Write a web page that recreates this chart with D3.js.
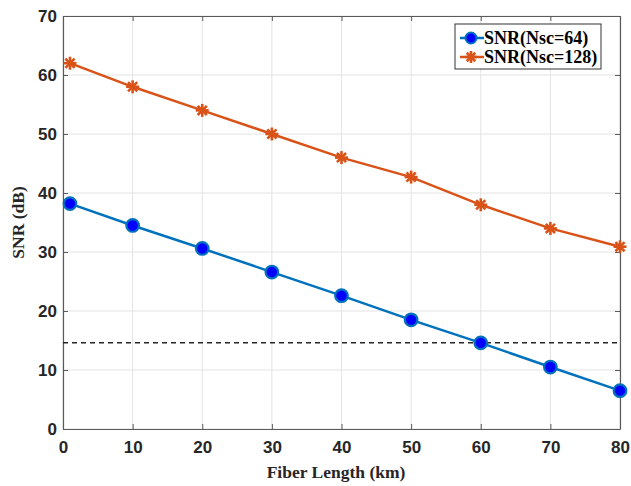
<!DOCTYPE html>
<html>
<head>
<meta charset="utf-8">
<script src="https://cdn.jsdelivr.net/npm/d3@7"></script>
<style>
  html, body { margin: 0; padding: 0; background: #fff; }
  svg { display: block; }
</style>
</head>
<body>
<svg id="chart" width="631" height="486"></svg>
<script>
// Fiber lengths (km) and SNR (dB) for two subcarrier counts
const fiberLength = [1, 10, 20, 30, 40, 50, 60, 70, 80];
const snrNsc64  = [38.2, 34.5, 30.6, 26.6, 22.6, 18.5, 14.6, 10.5, 6.5];
const snrNsc128 = [62.0, 58.0, 54.0, 50.0, 46.0, 42.7, 38.0, 34.0, 30.9];
const thresholdSNR = 14.6;
const xTicks = [0, 10, 20, 30, 40, 50, 60, 70, 80];
const yTicks = [0, 10, 20, 30, 40, 50, 60, 70];
const seriesNames = ["SNR(Nsc=64)", "SNR(Nsc=128)"];

const svg = d3.select("#chart");
const m = { left: 63, right: 620, top: 16, bottom: 429 };

const x = d3.scaleLinear().domain([0, 80]).range([m.left, m.right]);
const y = d3.scaleLinear().domain([0, 70]).range([m.bottom, m.top]);

const blue = "#0072BD", orange = "#D95319";

// grid
const grid = svg.append("g");
grid.selectAll("line.vx").data(xTicks).join("line")
  .attr("x1", d => x(d)).attr("x2", d => x(d))
  .attr("y1", m.top).attr("y2", m.bottom)
  .attr("stroke", "#e3e3e3").attr("stroke-width", 1);
grid.selectAll("line.hy").data(yTicks).join("line")
  .attr("x1", m.left).attr("x2", m.right)
  .attr("y1", d => y(d)).attr("y2", d => y(d))
  .attr("stroke", "#e3e3e3").attr("stroke-width", 1);

// axes (ticks pointing inward, mirrored on top/right)
const tickFont = "bold 17px 'Liberation Sans', Arial, sans-serif";
const axisColor = "#5a5a5a";

const xAxis = svg.append("g").attr("transform", `translate(0,${m.bottom})`)
  .call(d3.axisBottom(x).tickValues(xTicks).tickSizeInner(-5).tickSizeOuter(0).tickPadding(12));
const yAxis = svg.append("g").attr("transform", `translate(${m.left},0)`)
  .call(d3.axisLeft(y).tickValues(yTicks).tickSizeInner(-5).tickSizeOuter(0).tickPadding(6));
const xTop = svg.append("g").attr("transform", `translate(0,${m.top})`)
  .call(d3.axisTop(x).tickValues(xTicks).tickSizeInner(-5).tickSizeOuter(0).tickFormat(""));
const yRight = svg.append("g").attr("transform", `translate(${m.right},0)`)
  .call(d3.axisRight(y).tickValues(yTicks).tickSizeInner(-5).tickSizeOuter(0).tickFormat(""));

[xAxis, yAxis, xTop, yRight].forEach(g => {
  g.select(".domain").attr("stroke", axisColor).attr("stroke-width", 1.2);
  g.selectAll(".tick line").attr("stroke", axisColor).attr("stroke-width", 1);
  g.selectAll(".tick text").style("font", tickFont).attr("fill", "#262626");
});

// threshold line
svg.append("line")
  .attr("x1", x(0)).attr("x2", x(80))
  .attr("y1", y(thresholdSNR)).attr("y2", y(thresholdSNR))
  .attr("stroke", "#262626").attr("stroke-width", 1.5)
  .attr("stroke-dasharray", "5,4");

const line = d3.line().x(d => x(d[0])).y(d => y(d[1]));

// asterisk marker: four crossing strokes
function asterisk(g, cx, cy, r) {
  const a = g.append("g").attr("transform", `translate(${cx},${cy})`);
  for (let k = 0; k < 4; k++) {
    const ang = k * Math.PI / 4;
    a.append("line")
      .attr("x1", -r * Math.cos(ang)).attr("y1", -r * Math.sin(ang))
      .attr("x2", r * Math.cos(ang)).attr("y2", r * Math.sin(ang))
      .attr("stroke", orange).attr("stroke-width", 2.6);
  }
}

// Nsc = 128 series: line with asterisk markers
const pts128 = fiberLength.map((f, i) => [f, snrNsc128[i]]);
svg.append("path").datum(pts128).attr("d", line)
  .attr("fill", "none").attr("stroke", orange).attr("stroke-width", 2.5);
pts128.forEach(p => asterisk(svg, x(p[0]), y(p[1]), 6.5));

// Nsc = 64 series: line with filled circle markers
const pts64 = fiberLength.map((f, i) => [f, snrNsc64[i]]);
svg.append("path").datum(pts64).attr("d", line)
  .attr("fill", "none").attr("stroke", blue).attr("stroke-width", 2.5);
svg.selectAll("circle.p64").data(pts64).join("circle")
  .attr("cx", d => x(d[0])).attr("cy", d => y(d[1])).attr("r", 6.3)
  .attr("fill", "#0000FF").attr("stroke", blue).attr("stroke-width", 2.2);

// axis titles
const titleFont = "bold 17.5px 'Liberation Serif', 'Times New Roman', serif";
svg.append("text").attr("x", 336).attr("y", 478)
  .attr("text-anchor", "middle").style("font", titleFont).attr("fill", "#262626")
  .text("Fiber Length (km)");
svg.append("text").attr("transform", `translate(24,${(m.top + m.bottom) / 2}) rotate(-90)`)
  .attr("text-anchor", "middle").style("font", titleFont).attr("fill", "#262626")
  .text("SNR (dB)");

// legend
const lg = svg.append("g");
lg.append("rect").attr("x", 455).attr("y", 24).attr("width", 146).attr("height", 45)
  .attr("fill", "#fff").attr("stroke", "#333").attr("stroke-width", 1);
const legendFont = "bold 18px 'Liberation Serif', 'Times New Roman', serif";
const rows = [
  { name: seriesNames[0], color: blue, yy: 38 },
  { name: seriesNames[1], color: orange, yy: 57 }
];
rows.forEach((r, i) => {
  lg.append("line").attr("x1", 460).attr("x2", 484).attr("y1", r.yy).attr("y2", r.yy)
    .attr("stroke", r.color).attr("stroke-width", 2.5);
  if (i === 0) {
    lg.append("circle").attr("cx", 471).attr("cy", r.yy).attr("r", 5.5)
      .attr("fill", "#0000FF").attr("stroke", blue).attr("stroke-width", 2);
  } else {
    asterisk(lg, 471, r.yy, 6);
  }
  lg.append("text").attr("x", 484).attr("y", r.yy + 6)
    .style("font", legendFont).attr("fill", "#000").text(r.name);
});
</script>
</body>
</html>
